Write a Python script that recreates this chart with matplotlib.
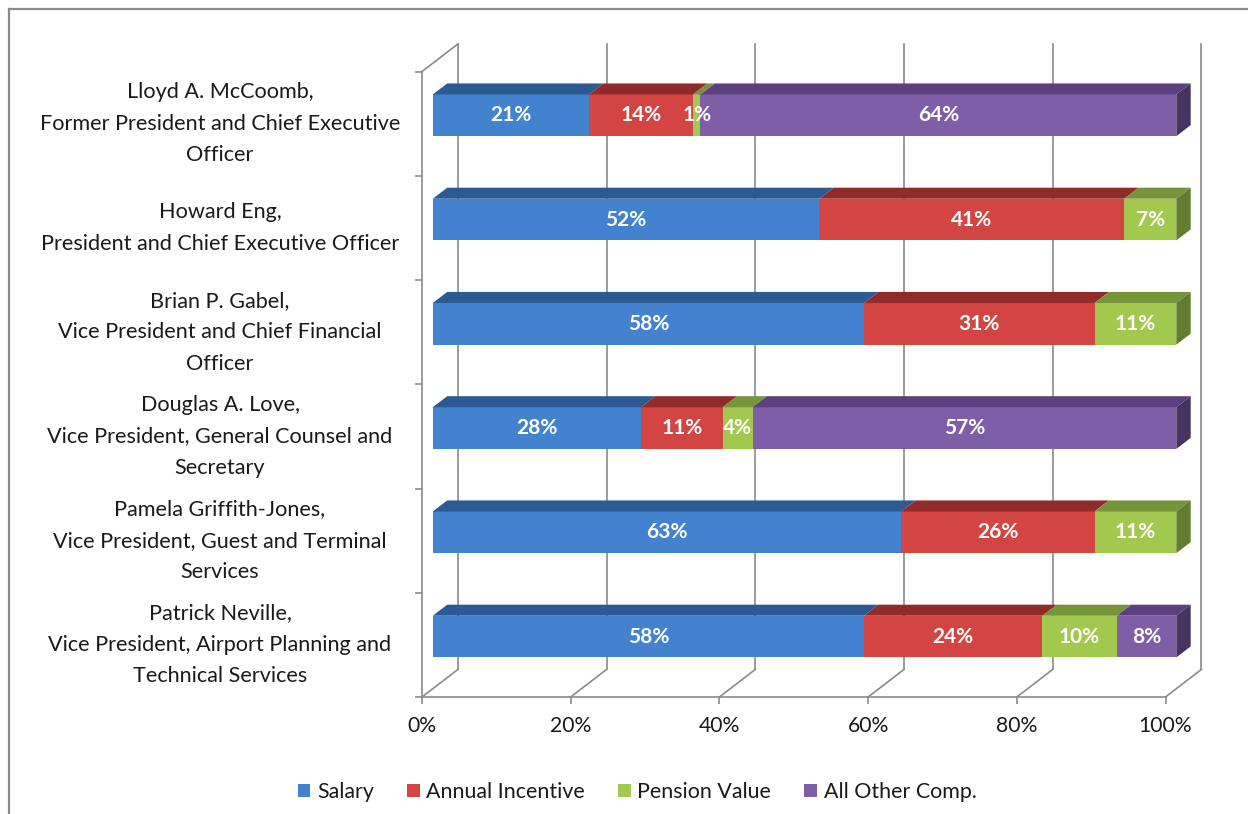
import matplotlib.pyplot as plt
from matplotlib.patches import Polygon, Patch
from matplotlib.lines import Line2D
from matplotlib.transforms import blended_transform_factory

# data, top row first (as in the chart)
names = [
    "Lloyd A. McCoomb,\nFormer President and Chief Executive\nOfficer",
    "Howard Eng,\nPresident and Chief Executive Officer",
    "Brian P. Gabel,\nVice President and Chief Financial\nOfficer",
    "Douglas A. Love,\nVice President, General Counsel and\nSecretary",
    "Pamela Griffith-Jones,\nVice President, Guest and Terminal\nServices",
    "Patrick Neville,\nVice President, Airport Planning and\nTechnical Services",
]
salary = [21, 52, 58, 28, 63, 58]
incentive = [14, 41, 31, 11, 26, 24]
pension = [1, 7, 11, 4, 11, 10]
other = [64, 0, 0, 57, 0, 8]

series_names = ["Salary", "Annual Incentive", "Pension Value", "All Other Comp."]
front_colors = ["#4382cf", "#d34542", "#a2c84e", "#7f5ea8"]
top_colors = ["#2c5b93", "#912b29", "#76943a", "#5c3f7e"]
side_colors = ["#24497a", "#7a2422", "#627c30", "#47335f"]
xticks = [0, 20, 40, 60, 80, 100]

W, H = 1248, 814
FONT = "Lato"
GRID = "#8a8a8a"
TXT = "#1a1a1a"

# oblique depth offsets (data units at full depth)
DX = 4.84
DY = 0.265
D0, D1 = 0.3, 0.7
BAR_H = 0.4


def proj(p, y, d):
    return (p + d * DX, y + d * DY)


fig = plt.figure(figsize=(W / 100, H / 100), dpi=100)
ax = fig.add_axes([422 / W, (H - 697) / H, 743.5 / W, 625.5 / H])
n = len(names)
ax.set_xlim(0, 100)
ax.set_ylim(0, n)

for s in ["top", "right"]:
    ax.spines[s].set_visible(False)
for s in ["left", "bottom"]:
    ax.spines[s].set_color(GRID)
    ax.spines[s].set_linewidth(1.2)

ax.set_xticks(xticks)
ax.set_xticklabels([f"{t}%" for t in xticks], fontsize=15.2, family=FONT, color=TXT)
ax.set_yticks(range(n + 1))
ax.set_yticklabels([])
ax.tick_params(axis="both", direction="out", length=5, width=1.2, color=GRID)
ax.tick_params(axis="x", pad=9)

# back wall gridlines + floor lines
for t in xticks:
    x0, y0 = proj(t, 0, 1)
    x1, y1 = proj(t, n, 1)
    ax.plot([x0, x1], [y0, y1], color=GRID, lw=1.2, clip_on=False, zorder=1)
    fx, fy = proj(t, 0, 0)
    ax.plot([fx, x0], [fy, y0], color=GRID, lw=1.2, clip_on=False, zorder=1)
# left wall top edge
lx0, ly0 = proj(0, n, 0)
lx1, ly1 = proj(0, n, 1)
ax.plot([lx0, lx1], [ly0, ly1], color=GRID, lw=1.2, clip_on=False, zorder=1)

# bars
values = [salary, incentive, pension, other]
for i in range(n):
    yc = n - 1 - i + 0.5
    yb, yt = yc - BAR_H / 2, yc + BAR_H / 2
    left = 0
    last = max(k for k in range(4) if values[k][i] > 0)
    for k in range(4):
        v = values[k][i]
        if v <= 0:
            continue
        right = left + v
        front = [proj(left, yb, D0), proj(right, yb, D0), proj(right, yt, D0), proj(left, yt, D0)]
        top = [proj(left, yt, D0), proj(right, yt, D0), proj(right, yt, D1), proj(left, yt, D1)]
        ax.add_patch(Polygon(front, closed=True, fc=front_colors[k], ec="none", zorder=3, clip_on=False))
        ax.add_patch(Polygon(top, closed=True, fc=top_colors[k], ec="none", zorder=3, clip_on=False))
        if k == last:
            side = [proj(right, yb, D0), proj(right, yb, D1), proj(right, yt, D1), proj(right, yt, D0)]
            ax.add_patch(Polygon(side, closed=True, fc=side_colors[k], ec="none", zorder=3, clip_on=False))
        tx, ty = proj(left + v / 2, yc, D0)
        ax.text(tx, ty, f"{v}%", ha="center", va="center", color="white", fontsize=15,
                fontweight="bold", family=FONT, zorder=5)
        left = right

# category labels
label_tf = blended_transform_factory(fig.transFigure, ax.transData)
for i, name in enumerate(names):
    ax.text(220 / W, n - 1 - i + 0.5, name, transform=label_tf,
            ha="center", va="center", multialignment="center", fontsize=15.6, family=FONT,
            color=TXT, linespacing=1.72)

# legend
handles = [Patch(fc=c, ec="none") for c in front_colors]
fig.legend(handles, series_names, loc="center", bbox_to_anchor=(637 / W, (H - 792) / H), ncol=4,
           frameon=False, prop={"family": FONT, "size": 15.4}, handlelength=0.6, handleheight=0.6,
           handletextpad=0.3, columnspacing=1.55, labelcolor=TXT)

# outer frame (cropped at right and bottom)
fig.add_artist(Line2D([8.5 / W, 8.5 / W], [0, (H - 9) / H], color=GRID, lw=1.6))
fig.add_artist(Line2D([8.5 / W, 1], [(H - 9) / H, (H - 9) / H], color=GRID, lw=1.6))

fig.savefig("out.png", dpi=100)
